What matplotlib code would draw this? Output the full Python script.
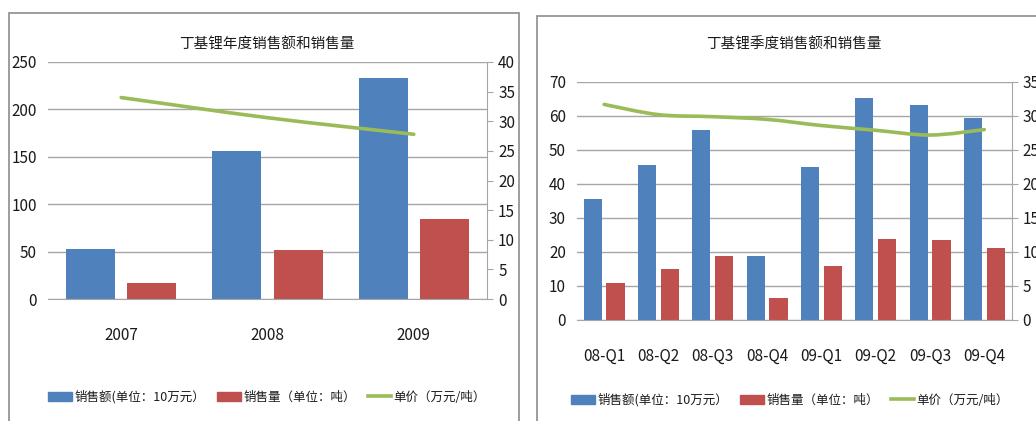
"""
plot.py
丁基锂 年度 / 季度 销售额、销售量与单价 (two Excel-style combo charts side by side).

Output : out.png  (1036 x 421 px)
"""

import numpy as np
import matplotlib
matplotlib.use("Agg")
import matplotlib.pyplot as plt
from matplotlib.patches import Rectangle, Patch, PathPatch
from matplotlib.lines import Line2D
from matplotlib.path import Path

plt.rcParams["font.family"] = ["Liberation Sans Narrow", "Noto Sans CJK SC", "DejaVu Sans"]

# ---------------------------------------------------------------------------
# Data
# ---------------------------------------------------------------------------
YEARS       = ["2007", "2008", "2009"]
YEAR_SALES  = [52.7, 155.8, 233.4]   # 销售额, 10万元
YEAR_VOLUME = [16.5, 52.0, 84.4]     # 销售量, 吨
YEAR_PRICE  = [34.0, 30.6, 27.8]     # 单价, 万元/吨

QUARTERS    = ["08-Q1", "08-Q2", "08-Q3", "08-Q4", "09-Q1", "09-Q2", "09-Q3", "09-Q4"]
Q_SALES     = [35.5, 45.7, 55.9, 18.8, 44.9, 65.2, 63.1, 59.3]
Q_VOLUME    = [11.0, 15.0, 18.8, 6.4, 15.9, 23.7, 23.4, 21.3]
Q_PRICE     = [31.7, 30.2, 29.9, 29.5, 28.6, 27.9, 27.2, 28.0]

LEGEND_LABELS = ["销售额(单位：10万元）", "销售量（单位：吨）", "单价（万元/吨）"]

# ---------------------------------------------------------------------------
# Style
# ---------------------------------------------------------------------------
BLUE  = "#4F81BD"
RED   = "#C0504D"
GREEN = "#9BBB59"
GRID  = "#A6A6A6"
FRAME = "#8C8C8C"
TXT   = "#1A1A1A"
W, H  = 1036, 421
BAR_W = 0.335
OFF   = 0.21


def fig_box(x0, y0, x1, y1):
    """pixel box (top-left origin) -> figure fraction rect"""
    return [x0 / W, 1 - y1 / H, (x1 - x0) / W, (y1 - y0) / H]


def smooth_path(xs, ys):
    """Excel-like smoothed line: Catmull-Rom segments as cubic Beziers."""
    pts = np.column_stack([xs, ys]).astype(float)
    verts = [pts[0]]
    codes = [Path.MOVETO]
    n = len(pts)
    for i in range(n - 1):
        p0 = pts[i - 1] if i > 0 else pts[i]
        p1, p2 = pts[i], pts[i + 1]
        p3 = pts[i + 2] if i + 2 < n else pts[i + 1]
        verts += [p1 + (p2 - p0) / 6, p2 - (p3 - p1) / 6, p2]
        codes += [Path.CURVE4] * 3
    return Path(verts, codes)


def combo_chart(fig, box, cats, sales, volume, price, ymax, ystep, y2max, y2step):
    ax = fig.add_axes(fig_box(*box))
    x = np.arange(len(cats))
    ax.bar(x - OFF, sales, BAR_W, color=BLUE, zorder=2)
    ax.bar(x + OFF, volume, BAR_W, color=RED, zorder=2)
    ax.set_xlim(-0.5, len(cats) - 0.5)
    ax.set_ylim(0, ymax)
    ax.set_yticks(np.arange(0, ymax + 1, ystep))
    ax.set_xticks(x)
    ax.set_xticklabels(cats)
    ax.grid(True, axis="y", color=GRID, linewidth=1.0)
    ax.set_axisbelow(True)
    for s in ["left", "top", "right"]:
        ax.spines[s].set_visible(False)
    ax.spines["bottom"].set_color(GRID)
    ax.tick_params(axis="y", length=0, pad=8, labelsize=11, labelcolor=TXT)
    ax.tick_params(axis="x", length=0, pad=20, labelsize=11, labelcolor=TXT)

    ax2 = ax.twinx()
    ax2.set_ylim(0, y2max)
    ax2.set_yticks(np.arange(0, y2max + 1, y2step))
    for s in ["left", "top", "bottom"]:
        ax2.spines[s].set_visible(False)
    ax2.spines["right"].set_color(GRID)
    ax2.tick_params(axis="y", direction="out", length=4, color=GRID, pad=4,
                    labelsize=11, labelcolor=TXT)
    ax2.add_patch(PathPatch(smooth_path(x, price), facecolor="none",
                            edgecolor=GREEN, linewidth=2.6, capstyle="round"))
    return ax, ax2


fig = plt.figure(figsize=(W / 100, H / 100), dpi=100)
fig.patch.set_facecolor("white")

# panel frames
fig.patches.append(Rectangle((9 / W, 1 - 430 / H), 510 / W, 417 / H,
                             transform=fig.transFigure, fill=False,
                             edgecolor=FRAME, linewidth=1.2))
fig.patches.append(Rectangle((537 / W, 1 - 430 / H), 520 / W, 414 / H,
                             transform=fig.transFigure, fill=False,
                             edgecolor=FRAME, linewidth=1.2))

# left: yearly
combo_chart(fig, (48, 62, 487, 299), YEARS, YEAR_SALES, YEAR_VOLUME, YEAR_PRICE,
            250, 50, 40, 5)
fig.text(267 / W, 1 - 45 / H, "丁基锂年度销售额和销售量", ha="center", va="center",
         fontsize=10.5, family=["Noto Sans CJK SC", "DejaVu Sans"], color=TXT)

# right: quarterly
combo_chart(fig, (577, 82, 1011.5, 320), QUARTERS, Q_SALES, Q_VOLUME, Q_PRICE,
            70, 10, 35, 5)
fig.text(794 / W, 1 - 45 / H, "丁基锂季度销售额和销售量", ha="center", va="center",
         fontsize=10.5, family=["Noto Sans CJK SC", "DejaVu Sans"], color=TXT)

# legends
handles = [Patch(color=BLUE), Patch(color=RED), Line2D([], [], color=GREEN, linewidth=2.6)]
for lx, ly in [(48, 397), (571, 400)]:
    fig.legend(handles, LEGEND_LABELS, loc="center left",
               bbox_to_anchor=(lx / W, 1 - ly / H), ncol=3, frameon=False,
               fontsize=9, handlelength=1.9, handleheight=0.8, handletextpad=0.2,
               columnspacing=0.95, borderaxespad=0, borderpad=0, labelcolor=TXT)

fig.savefig("out.png", dpi=100)
plt.close(fig)
